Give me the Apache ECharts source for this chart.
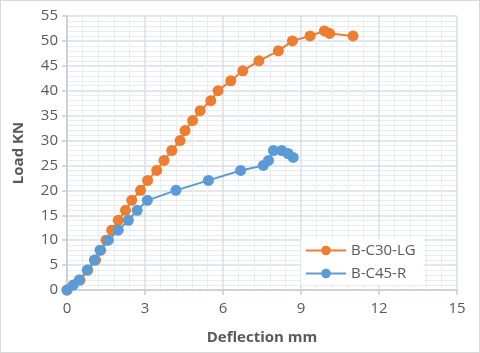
<!DOCTYPE html>
<html>
<head>
<meta charset="utf-8">
<script src="https://cdn.jsdelivr.net/npm/echarts@6/dist/echarts.min.js"></script>
<style>
  html, body { margin: 0; padding: 0; background: #fff; }
  #chart { width: 480px; height: 353px; box-sizing: border-box; border: 1px solid #d9d9d9; }
</style>
</head>
<body>
<div id="chart"></div>
<script>
// B-C30-LG
const c30Deflection = [0, 0.5, 0.8, 1.1, 1.3, 1.5, 1.72, 1.97, 2.25, 2.49, 2.83, 3.1, 3.45, 3.73, 4.03, 4.35, 4.54, 4.83, 5.12, 5.53, 5.81, 6.3, 6.76, 7.38, 8.13, 8.67, 9.35, 9.9, 10.1, 11.0];
const c30Load = [0, 2, 4, 6, 8, 10, 12, 14, 16, 18, 20, 22, 24, 26, 28, 30, 32, 34, 36, 38, 40, 42, 44, 46, 48, 50, 51, 52, 51.5, 51];
// B-C45-R
const c45Deflection = [0, 0.24, 0.47, 0.78, 1.05, 1.27, 1.59, 1.97, 2.36, 2.7, 3.09, 4.19, 5.44, 6.68, 7.55, 7.75, 7.94, 8.26, 8.5, 8.7];
const c45Load = [0, 1, 2, 4, 6, 8, 10, 12, 14, 16, 18, 20, 22, 24, 25, 26, 28, 28, 27.4, 26.6];

const seriesNames = ["B-C30-LG", "B-C45-R"];
const seriesColors = ["#ED7D31", "#5B9BD5"];

const zip = (xs, ys) => xs.map((x, i) => [x, ys[i]]);

const textColor = "#595959";
const fontFamily = "'Open Sans', 'Liberation Sans', sans-serif";

const axisCommon = {
  axisLine: { show: true, lineStyle: { color: "#c3cbd9", width: 1.5 } },
  axisTick: { show: true, length: 5, lineStyle: { color: "#c3cbd9", width: 1.5 } },
  axisLabel: { color: textColor, fontSize: 15, fontFamily: fontFamily },
  splitLine: { show: true, lineStyle: { color: "#d9dfe9", width: 1.5 } },
  minorTick: { show: false, splitNumber: 5 },
  minorSplitLine: { show: true, lineStyle: { color: "#e9edf3", width: 1 } },
  nameTextStyle: { color: textColor, fontSize: 15, fontWeight: "bold", fontFamily: fontFamily }
};

const chart = echarts.init(document.getElementById("chart"));

chart.setOption({
  animation: false,
  backgroundColor: "#fff",
  grid: { left: 66, right: 22, top: 15, bottom: 62 },
  legend: {
    orient: "vertical",
    left: 300,
    top: 238,
    backgroundColor: "#fff",
    padding: [4, 8, 4, 4],
    itemWidth: 40,
    itemHeight: 12,
    itemGap: 8,
    textStyle: { color: textColor, fontSize: 15, fontFamily: fontFamily },
    data: seriesNames
  },
  xAxis: Object.assign({}, axisCommon, {
    type: "value",
    min: 0,
    max: 15,
    interval: 3,
    name: "Deflection mm",
    nameLocation: "middle",
    nameGap: 40,
    axisLabel: Object.assign({}, axisCommon.axisLabel, { margin: 11 })
  }),
  yAxis: Object.assign({}, axisCommon, {
    type: "value",
    min: 0,
    max: 55,
    interval: 5,
    name: "Load KN",
    nameLocation: "middle",
    nameGap: 41,
    axisLabel: Object.assign({}, axisCommon.axisLabel, { margin: 9 })
  }),
  series: [
    {
      name: seriesNames[0],
      type: "line",
      data: zip(c30Deflection, c30Load),
      symbol: "circle",
      symbolSize: 11,
      lineStyle: { color: seriesColors[0], width: 2 },
      itemStyle: { color: seriesColors[0] },
      z: 2
    },
    {
      name: seriesNames[1],
      type: "line",
      data: zip(c45Deflection, c45Load),
      symbol: "circle",
      symbolSize: 11,
      lineStyle: { color: seriesColors[1], width: 2 },
      itemStyle: { color: seriesColors[1] },
      z: 3
    }
  ]
});
</script>
</body>
</html>
